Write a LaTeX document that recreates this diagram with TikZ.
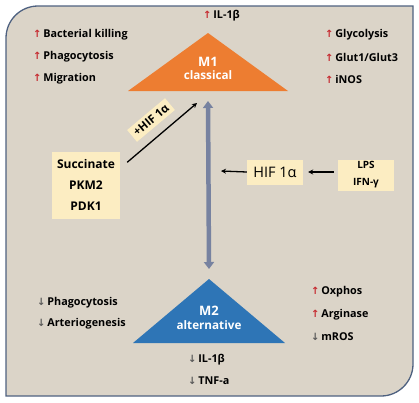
\documentclass[tikz,border=0pt]{standalone}
\usepackage{fontspec}
\setmainfont{Open Sans}
\newfontfamily\symfont{DejaVu Sans}
\usetikzlibrary{arrows.meta,positioning}
\definecolor{PanelBeige}{HTML}{DBD4C8}
\definecolor{FrameSlate}{HTML}{4E6180}
\definecolor{MOrange}{HTML}{ED7D31}
\definecolor{MBlue}{HTML}{2E75B6}
\definecolor{BoxCream}{HTML}{FCEDC2}
\definecolor{UpRed}{HTML}{C62A30}
\definecolor{DownGray}{HTML}{5A5A5A}
\definecolor{ShaftSlate}{HTML}{7782A0}
\newcommand{\uparr}{{\symfont\fontsize{10}{10}\selectfont\textcolor{UpRed}{↑}}\,}
\newcommand{\dnarr}{{\symfont\fontsize{10}{10}\selectfont\textcolor{DownGray}{↓}}\,}

\begin{document}
\begin{tikzpicture}[
        x=1pt,y=1pt,
        node distance=22pt,
        item/.style={anchor=west,inner sep=0pt,text=black,font=\bfseries\fontsize{10.8}{13}\selectfont},
        tri/.style={text=white,align=center,inner sep=0pt},
        cream/.style={fill=BoxCream,inner sep=0pt,align=center},
        arr/.style={-{Stealth[length=5pt,width=5pt]},black,line width=1.3pt},
        twoway/.style={{Triangle[width=10pt,length=7pt]}-{Triangle[width=10pt,length=7pt]},ShaftSlate,line width=4.5pt}
      ]
        \useasboundingbox (0,0) rectangle (419,-402);
        % panel
        \draw[FrameSlate,line width=1.3pt,fill=PanelBeige]
          (6,-396) -- (6,-38) arc[start angle=180,end angle=90,radius=32]
          -- (413,-6) -- (413,-364) arc[start angle=0,end angle=-90,radius=32] -- cycle;

        % M1 triangle
        \coordinate (m1top) at (208,-33);
        \coordinate (m1base) at (208,-91);
        \fill[MOrange] (m1top) -- (288,-91) -- (128,-91) -- cycle;
        \node[tri,font=\bfseries\fontsize{13}{13}\selectfont] (m1) at (208,-62) {M1};
        \node[tri,below=4pt of m1,font=\bfseries\fontsize{11.7}{12}\selectfont] (m1sub) {classical};

        % M2 triangle
        \coordinate (m2top) at (209,-279);
        \fill[MBlue] (m2top) -- (285,-343) -- (133,-343) -- cycle;
        \node[tri,font=\bfseries\fontsize{13}{13}\selectfont] (m2) at (209,-311) {M2};
        \node[tri,below=4pt of m2,font=\bfseries\fontsize{11.7}{12}\selectfont] (m2sub) {alternative};

        % M1 markers
        \node[item] (il1up) at (203,-16) {\uparr IL-1β};
        \node[item] (kill) at (33,-35) {\uparr Bacterial killing};
        \node[item,below=of kill.west,anchor=west] (phagup) {\uparr Phagocytosis};
        \node[item,below=of phagup.west,anchor=west] (migr) {\uparr Migration};
        \node[item] (glyc) at (325,-35) {\uparr Glycolysis};
        \node[item,below=of glyc.west,anchor=west] (glut) {\uparr Glut1/Glut3};
        \node[item,below=of glut.west,anchor=west] (inos) {\uparr iNOS};

        % M2 markers
        \node[item] (phagdn) at (37,-303) {\dnarr Phagocytosis};
        \node[item,below=21pt of phagdn.west,anchor=west] (arter) {\dnarr Arteriogenesis};
        \node[item] (oxph) at (311,-292) {\uparr Oxphos};
        \node[item,below=23pt of oxph.west,anchor=west] (argin) {\uparr Arginase};
        \node[item,below=22pt of argin.west,anchor=west] (mros) {\dnarr mROS};
        \node[item] (il1dn) at (188,-360) {\dnarr IL-1β};
        \node[item,below=21pt of il1dn.west,anchor=west] (tnf) {\dnarr TNF-a};

        % regulators
        \node[cream,minimum width=68pt,minimum height=67pt,font=\bfseries\fontsize{12}{21}\selectfont] (succ) at (86,-185) {Succinate\\PKM2\\PDK1};
        \node[cream,minimum width=56pt,minimum height=25pt,font=\fontsize{14.5}{14.5}\selectfont] (hif) at (275,-172) {HIF 1α};
        \node[cream,minimum width=56pt,minimum height=31pt,font=\bfseries\fontsize{10}{17}\selectfont] (lps) at (366,-175) {LPS\\IFN-γ};
        \node[cream,rotate=40,inner sep=3.5pt,font=\bfseries\fontsize{11.5}{12}\selectfont] (hiflab) at (151,-120) {+HIF 1α};

        % connectors
        \coordinate (m1foot) at (197,-103);
        \coordinate (hifend) at (221,-171);
        \draw[twoway] ([yshift=-10pt]m1base) -- ([yshift=10pt]m2top);
        \draw[arr] ([xshift=7pt,yshift=-11pt]succ.north east) -- (m1foot);
        \draw[arr] (hif.west) -- (hifend);
        \draw[arr] ([xshift=-4pt]lps.west |- hif.east) -- ([xshift=5pt]hif.east);
      \end{tikzpicture}
\end{document}
